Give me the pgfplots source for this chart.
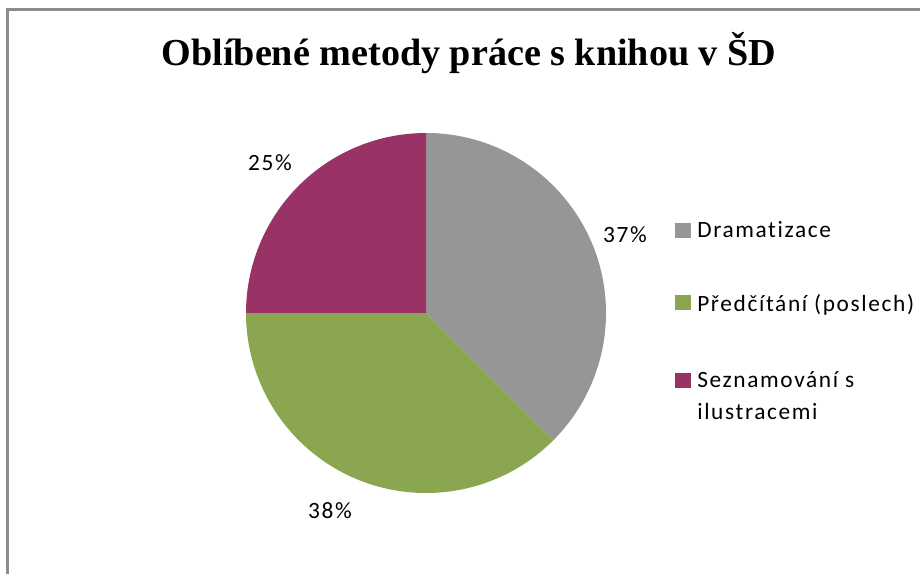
\documentclass[border=0pt]{standalone}
\usepackage{pgfplots}
\pgfplotsset{compat=1.18}
\usepackage{fontspec}
\setmainfont{Carlito}
\newfontfamily\lbl[LetterSpace=7,Ligatures=NoCommon]{Carlito}
\newfontfamily\titlefont{Liberation Serif}
\definecolor{cGray}{HTML}{969696}
\definecolor{cGreen}{HTML}{8BA650}
\definecolor{cMaroon}{HTML}{993366}
\definecolor{cFrame}{HTML}{8C8C8C}
% slice values (percent), clockwise from 12 o'clock
\def\vA{37.5}\def\vB{37.5}\def\vC{25}
\def\R{135pt}
\begin{document}
\begin{tikzpicture}
\path[use as bounding box] (0,0) rectangle (690pt,430.5pt);
\begin{axis}[x=0.75pt,y=0.75pt,xmin=0,xmax=920,ymin=0,ymax=574,
  hide axis,clip=false,anchor=south west,at={(0,0)}]
% frame
\draw[cFrame,line width=1.6pt] (axis cs:7.5,-20) -- (axis cs:7.5,564.5) -- (axis cs:940,564.5);
% title
\node[font=\titlefont\bfseries\fontsize{28.6}{34}\selectfont,anchor=base] at (axis cs:469,508) {Oblíbené metody práce s knihou v ŠD};
% pie slices
\fill[cGray] (axis cs:426,261) -- ++(90:\R) arc[start angle=90,delta angle=-\vA*3.6,radius=\R] -- cycle;
\fill[cGreen] (axis cs:426,261) -- ++(90-\vA*3.6:\R) arc[start angle=90-\vA*3.6,delta angle=-\vB*3.6,radius=\R] -- cycle;
\fill[cMaroon] (axis cs:426,261) -- ++(90-\vA*3.6-\vB*3.6:\R) arc[start angle=90-\vA*3.6-\vB*3.6,delta angle=-\vC*3.6,radius=\R] -- cycle;
% data labels
\node[font=\lbl\fontsize{17.5}{21}\selectfont,anchor=base] at (axis cs:625,331) {37\%};
\node[font=\lbl\fontsize{17.5}{21}\selectfont,anchor=base] at (axis cs:330,55) {38\%};
\node[font=\lbl\fontsize{17.5}{21}\selectfont,anchor=base] at (axis cs:270,403) {25\%};
% legend
\fill[cGray] (axis cs:675,336) rectangle (axis cs:691,351);
\fill[cGreen] (axis cs:675,264) rectangle (axis cs:691,279);
\fill[cMaroon] (axis cs:675,186) rectangle (axis cs:691,201);
\node[font=\lbl\fontsize{17.5}{21}\selectfont,anchor=base west,inner sep=0pt] at (axis cs:697,336) {Dramatizace};
\node[font=\lbl\fontsize{17.5}{21}\selectfont,anchor=base west,inner sep=0pt] at (axis cs:697,262) {Předčítání (poslech)};
\node[font=\lbl\fontsize{17.5}{21}\selectfont,anchor=base west,inner sep=0pt] at (axis cs:697,186) {Seznamování s};
\node[font=\lbl\fontsize{17.5}{21}\selectfont,anchor=base west,inner sep=0pt] at (axis cs:697,154) {ilustracemi};
\end{axis}
\end{tikzpicture}
\end{document}
